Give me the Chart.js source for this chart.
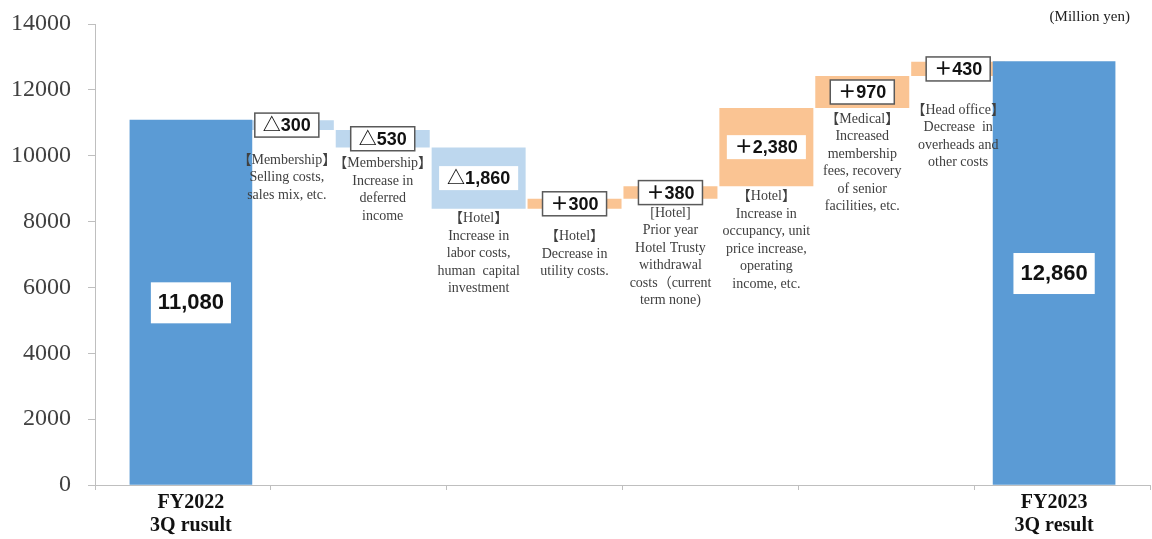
<!DOCTYPE html>
<html>
<head>
<meta charset="utf-8">
<script src="https://cdn.jsdelivr.net/npm/chart.js@4.4.1/dist/chart.umd.min.js"></script>
<style>
html, body { margin: 0; padding: 0; background: #fff; }
#wrap { width: 1152px; height: 539px; position: relative; }
</style>
</head>
<body>
<div id="wrap"><canvas id="chart"></canvas></div>
<script>
// slots: one empty slot at each end, the start total, 8 changes, the end total
var categories = ['', ['FY2022', '3Q rusult'], '', '', '', '', '', '', '', '', ['FY2023', '3Q result'], ''];
var startValue = 11080;
var endValue = 12860;
var changeValues = [-300, -530, -1860, 300, 380, 2380, 970, 430];
var changeLabels = ['△300', '△530', '△1,860', '＋300', '＋380', '＋2,380', '＋970', '＋430'];
var totalLabels = ['11,080', '12,860'];
var changeNotes = [
	['【Membership】', 'Selling costs,', 'sales mix, etc.'],
	['【Membership】', 'Increase in', 'deferred', 'income'],
	['【Hotel】', 'Increase in', 'labor costs,', 'human  capital', 'investment'],
	['【Hotel】', 'Decrease in', 'utility costs.'],
	['[Hotel]', 'Prior year', 'Hotel Trusty', 'withdrawal', 'costs（current', 'term none)'],
	['【Hotel】', 'Increase in', 'occupancy, unit', 'price increase,', 'operating', 'income, etc.'],
	['【Medical】', 'Increased', 'membership', 'fees, recovery', 'of senior', 'facilities, etc.'],
	['【Head office】', 'Decrease  in', 'overheads and', 'other costs']
];
var yTicks = [0, 2000, 4000, 6000, 8000, 10000, 12000, 14000];
var unitText = '(Million yen)';

var TOTAL_COLOR = '#5b9bd5';
var DOWN_COLOR = '#bdd7ee';
var UP_COLOR = '#fac493';
var SERIF = '"Liberation Serif", "Times New Roman", "Noto Sans CJK JP", serif';
var SANS = '"Liberation Sans", Arial, "Noto Sans CJK JP", sans-serif';

// build the waterfall from the data
var totalsData = [];
var stepsData = [];
var stepColors = [];
for (var i = 0; i < categories.length; i++) {
	totalsData.push(null);
	stepsData.push(null);
	stepColors.push(DOWN_COLOR);
}
totalsData[1] = startValue;
totalsData[10] = endValue;
var running = startValue;
for (var k = 0; k < changeValues.length; k++) {
	stepsData[k + 2] = [running, running + changeValues[k]];
	stepColors[k + 2] = changeValues[k] < 0 ? DOWN_COLOR : UP_COLOR;
	running += changeValues[k];
}

// boxes with a frame, and how far below each bar its note starts
var framed = [true, true, false, true, true, false, true, true];
var noteGap = [22, 8, 2, 20, 6, 2, 3, 26];

var annotate = {
	id: 'annotate',
	afterDatasetsDraw: function(chart) {
		var ctx = chart.ctx;
		var totals = chart.getDatasetMeta(0).data;
		var steps = chart.getDatasetMeta(1).data;
		ctx.save();
		ctx.textAlign = 'center';
		ctx.textBaseline = 'middle';

		ctx.font = 'bold 22px ' + SANS;
		[1, 10].forEach(function(idx, n) {
			var bar = totals[idx];
			var cy = (bar.y + bar.base) / 2;
			var w = ctx.measureText(totalLabels[n]).width + 14;
			ctx.fillStyle = '#fff';
			ctx.fillRect(bar.x - w / 2, cy - 20, w, 41);
			ctx.fillStyle = '#111';
			ctx.fillText(totalLabels[n], bar.x, cy + 1);
		});

		for (var k = 0; k < changeValues.length; k++) {
			var bar = steps[k + 2];
			var top = Math.min(bar.y, bar.base);
			var bottom = Math.max(bar.y, bar.base);
			var cy = (top + bottom) / 2;
			ctx.font = 'bold 18px ' + SANS;
			var w = ctx.measureText(changeLabels[k]).width + 16;
			ctx.fillStyle = '#fff';
			ctx.fillRect(bar.x - w / 2, cy - 12, w, 24);
			if (framed[k]) {
				ctx.strokeStyle = '#595959';
				ctx.lineWidth = 1.5;
				ctx.strokeRect(bar.x - w / 2, cy - 12, w, 24);
			}
			ctx.fillStyle = '#111';
			ctx.fillText(changeLabels[k], bar.x, cy + 1);

			ctx.font = '14px ' + SERIF;
			ctx.fillStyle = '#404040';
			var y0 = bottom + noteGap[k] + 8;
			changeNotes[k].forEach(function(line, j) {
				ctx.fillText(line, bar.x, y0 + j * 17.5);
			});
		}
		ctx.restore();
	},
	afterDraw: function(chart) {
		var ctx = chart.ctx;
		ctx.save();
		ctx.font = '15px ' + SERIF;
		ctx.fillStyle = '#222';
		ctx.textAlign = 'right';
		ctx.textBaseline = 'middle';
		ctx.fillText(unitText, 1130, 17);
		ctx.restore();
	}
};

new Chart(document.getElementById('chart'), {
	type: 'bar',
	data: {
		labels: categories,
		datasets: [
			{ data: totalsData, backgroundColor: TOTAL_COLOR, barThickness: 122 },
			{ data: stepsData, backgroundColor: stepColors, barPercentage: 0.98, categoryPercentage: 1 }
		]
	},
	options: {
		responsive: true,
		maintainAspectRatio: false,
		animation: false,
		grouped: false,
		layout: { padding: { top: 24, left: 0, right: 0, bottom: 1 } },
		plugins: { legend: { display: false }, tooltip: { enabled: false } },
		scales: {
			x: {
				offset: false,
				weight: 1,
				grid: { display: false, drawTicks: false },
				border: { display: false },
				afterFit: function(scale) { scale.height = 48; },
				ticks: {
					autoSkip: false, maxRotation: 0, padding: 2,
					color: '#111',
					font: { family: SERIF, size: 20, weight: 'bold', lineHeight: 1.12 }
				}
			},
			// tick marks along the base line, as in the source sheet
			x2: {
				type: 'linear', position: 'bottom', weight: 0,
				min: 0, max: 6, offset: false,
				ticks: { display: false, stepSize: 1 },
				grid: { drawOnChartArea: false, offset: false, tickLength: 5, color: '#bfbfbf' },
				border: { color: '#bfbfbf' }
			},
			y: {
				min: 0, max: 14000,
				afterBuildTicks: function(scale) {
					scale.ticks = yTicks.map(function(v) { return { value: v }; });
				},
				afterFit: function(scale) {
					scale.width = 95;
					scale.paddingTop = 0;
					scale.paddingBottom = 0;
				},
				ticks: {
					padding: 17, color: '#404040',
					font: { family: SERIF, size: 24 },
					callback: function(v) { return String(v); }
				},
				grid: { drawOnChartArea: false, tickLength: 7, color: '#bfbfbf' },
				border: { color: '#bfbfbf' }
			}
		}
	},
	plugins: [annotate]
});
</script>
</body>
</html>
